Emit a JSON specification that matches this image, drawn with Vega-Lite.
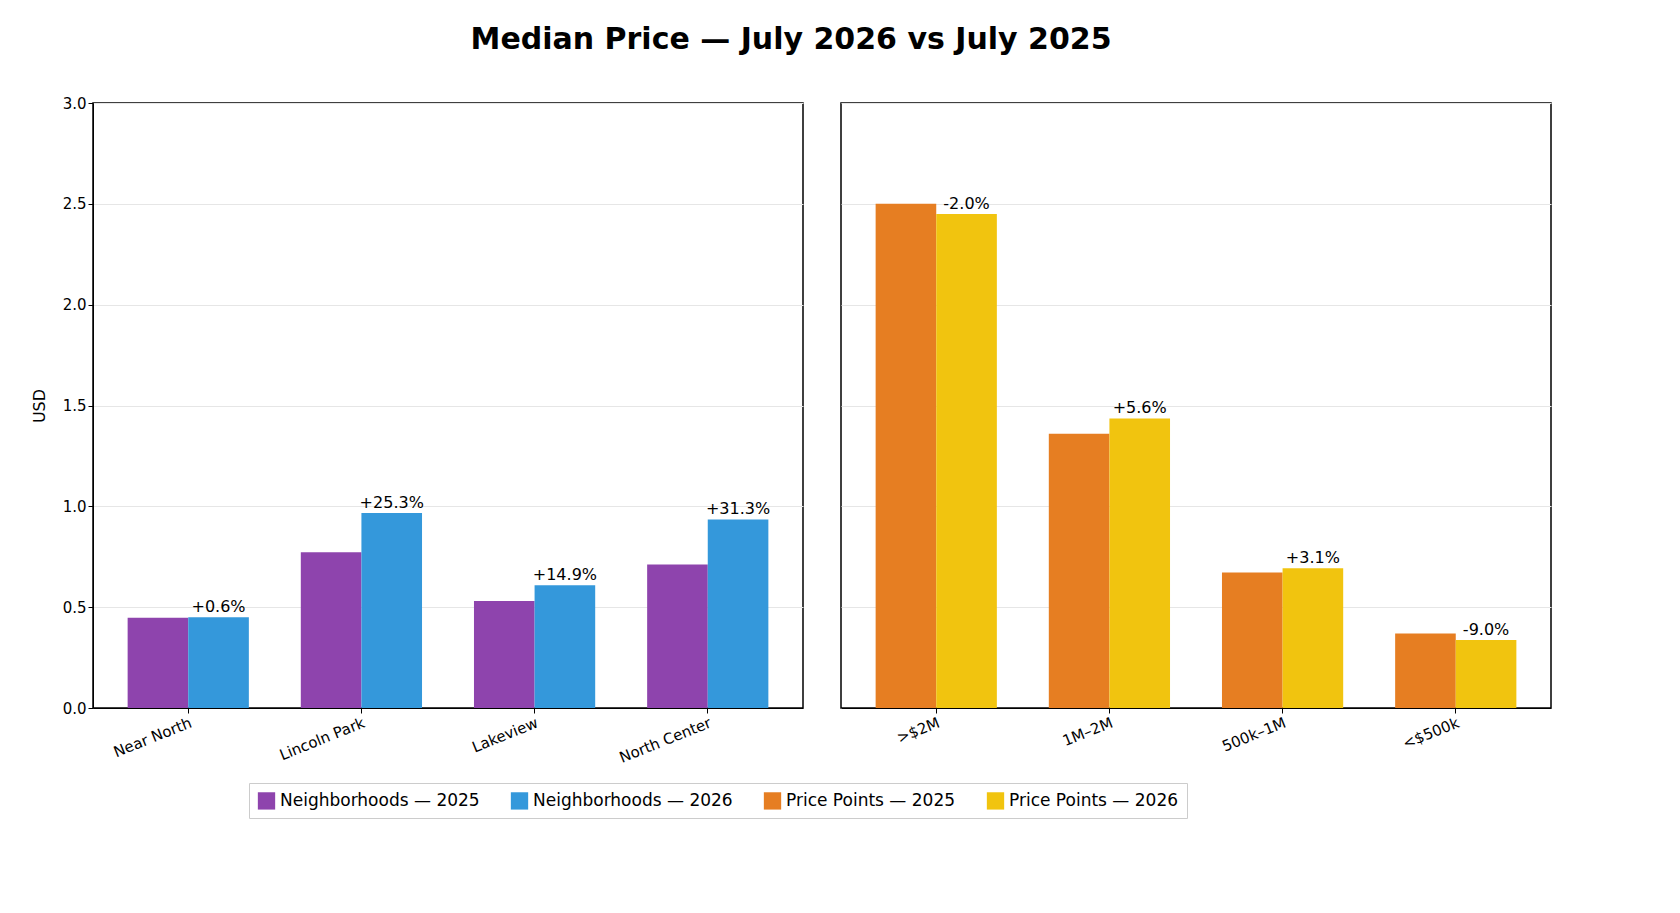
{
  "$schema": "https://vega.github.io/schema/vega-lite/v6.json",
  "title": {"text": "Median Price — July 2026 vs July 2025", "fontSize": 30, "fontWeight": "bold", "font": "DejaVu Sans", "offset": 40, "anchor": "middle"},
  "padding": {"left": 30, "top": 25, "right": 30, "bottom": 10},
  "config": {
    "font": "DejaVu Sans",
    "view": {"stroke": "black", "strokeWidth": 1.5},
    "axis": {"labelFontSize": 15, "titleFontSize": 16, "titleFontWeight": "normal", "labelColor": "black", "tickColor": "black", "domainColor": "black", "gridColor": "#e6e6e6"},
    "legend": {"labelFontSize": 17, "labelLimit": 0, "orient": "none", "legendX": 156, "legendY": 680, "direction": "horizontal", "title": null, "symbolType": "square", "symbolSize": 300, "columnPadding": 30, "strokeColor": "#cccccc", "padding": 8}
  },
  "datasets": {
    "hoods": [
      {"category": "Near North", "year": "2025", "series": "Neighborhoods — 2025", "value": 447000, "label": ""},
      {"category": "Near North", "year": "2026", "series": "Neighborhoods — 2026", "value": 450000, "label": "+0.6%"},
      {"category": "Lincoln Park", "year": "2025", "series": "Neighborhoods — 2025", "value": 772000, "label": ""},
      {"category": "Lincoln Park", "year": "2026", "series": "Neighborhoods — 2026", "value": 967000, "label": "+25.3%"},
      {"category": "Lakeview", "year": "2025", "series": "Neighborhoods — 2025", "value": 530000, "label": ""},
      {"category": "Lakeview", "year": "2026", "series": "Neighborhoods — 2026", "value": 609000, "label": "+14.9%"},
      {"category": "North Center", "year": "2025", "series": "Neighborhoods — 2025", "value": 712000, "label": ""},
      {"category": "North Center", "year": "2026", "series": "Neighborhoods — 2026", "value": 935000, "label": "+31.3%"}
    ],
    "prices": [
      {"category": ">$2M", "year": "2025", "series": "Price Points — 2025", "value": 2500000, "label": ""},
      {"category": ">$2M", "year": "2026", "series": "Price Points — 2026", "value": 2450000, "label": "-2.0%"},
      {"category": "1M–2M", "year": "2025", "series": "Price Points — 2025", "value": 1360000, "label": ""},
      {"category": "1M–2M", "year": "2026", "series": "Price Points — 2026", "value": 1436000, "label": "+5.6%"},
      {"category": "500k–1M", "year": "2025", "series": "Price Points — 2025", "value": 672000, "label": ""},
      {"category": "500k–1M", "year": "2026", "series": "Price Points — 2026", "value": 693000, "label": "+3.1%"},
      {"category": "<$500k", "year": "2025", "series": "Price Points — 2025", "value": 370000, "label": ""},
      {"category": "<$500k", "year": "2026", "series": "Price Points — 2026", "value": 337000, "label": "-9.0%"}
    ]
  },
  "resolve": {"scale": {"color": "shared"}},
  "spacing": 36,
  "hconcat": [
    {
      "width": 710, "height": 605,
      "data": {"name": "hoods"},
      "encoding": {
        "x": {"field": "category", "type": "nominal", "sort": null, "title": null, "scale": {"paddingInner": 0.3, "paddingOuter": 0.2}, "axis": {"labelAngle": -22, "labelAlign": "right", "labelBaseline": "top"}},
        "xOffset": {"field": "year", "type": "nominal"},
        "y": {"field": "value", "type": "quantitative", "title": "USD", "scale": {"domain": [0, 3000000]}, "axis": {"tickCount": 6, "labelExpr": "format(datum.value / 1000000, '.1f')", "titlePadding": 15}}
      },
      "layer": [
        {
          "mark": {"type": "bar"},
          "encoding": {
            "color": {"field": "series", "type": "nominal", "scale": {"domain": ["Neighborhoods — 2025", "Neighborhoods — 2026", "Price Points — 2025", "Price Points — 2026"], "range": ["#8e44ad", "#3498db", "#e67e22", "#f1c40f"]}}
          }
        },
        {
          "transform": [{"filter": "datum.label != ''"}],
          "mark": {"type": "text", "dy": -10, "fontSize": 16},
          "encoding": {"text": {"field": "label"}}
        }
      ]
    },
    {
      "width": 710, "height": 605,
      "data": {"name": "prices"},
      "encoding": {
        "x": {"field": "category", "type": "nominal", "sort": null, "title": null, "scale": {"paddingInner": 0.3, "paddingOuter": 0.2}, "axis": {"labelAngle": -22, "labelAlign": "right", "labelBaseline": "top"}},
        "xOffset": {"field": "year", "type": "nominal"},
        "y": {"field": "value", "type": "quantitative", "title": null, "scale": {"domain": [0, 3000000]}, "axis": {"tickCount": 6, "labels": false, "ticks": false, "domain": false}}
      },
      "layer": [
        {
          "mark": {"type": "bar"},
          "encoding": {
            "color": {"field": "series", "type": "nominal"}
          }
        },
        {
          "transform": [{"filter": "datum.label != ''"}],
          "mark": {"type": "text", "dy": -10, "fontSize": 16},
          "encoding": {"text": {"field": "label"}}
        }
      ]
    }
  ]
}
